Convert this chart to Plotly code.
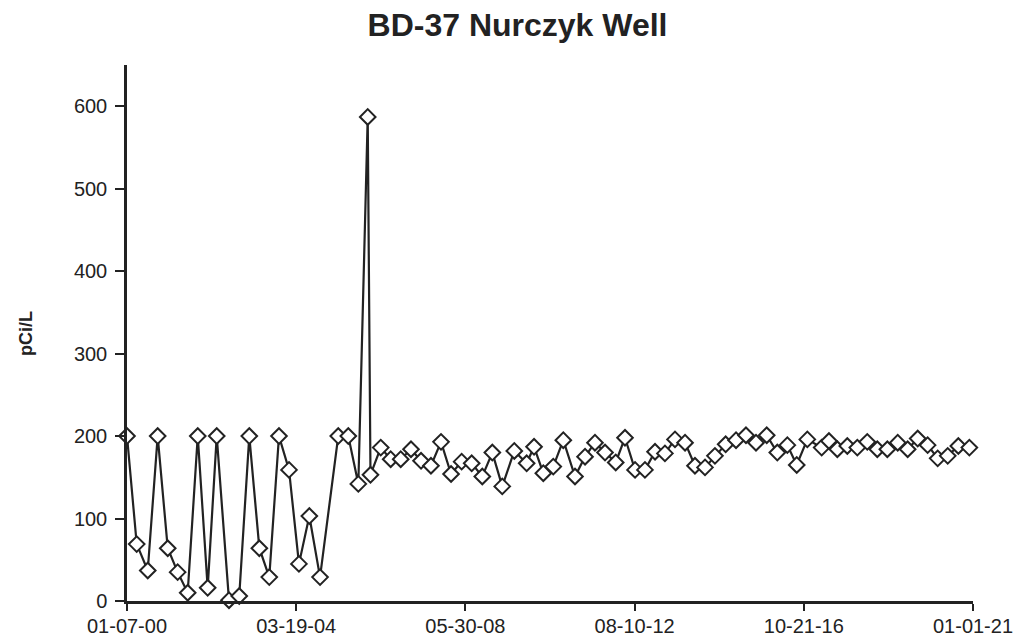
import plotly.graph_objects as go

sample_dates = [
    "2000-01-07", "2000-04-04", "2000-07-13", "2000-10-11", "2001-01-10", "2001-04-10",
    "2001-07-10", "2001-10-09", "2002-01-07", "2002-03-30", "2002-07-19", "2002-10-20",
    "2003-01-19", "2003-04-20", "2003-07-19", "2003-10-15", "2004-01-14", "2004-04-13",
    "2004-07-16", "2004-10-21", "2005-04-04", "2005-07-04", "2005-10-03", "2005-12-27",
    "2006-01-21", "2006-04-24", "2006-07-23", "2006-10-22", "2007-01-23", "2007-04-24",
    "2007-07-23", "2007-10-22", "2008-01-21", "2008-04-26", "2008-07-26", "2008-10-30",
    "2009-01-29", "2009-04-29", "2009-08-16", "2009-12-06", "2010-02-11", "2010-05-06",
    "2010-08-04", "2010-11-03", "2011-02-17", "2011-05-19", "2011-08-17", "2011-11-16",
    "2012-02-21", "2012-05-15", "2012-08-14", "2012-11-12", "2013-02-11", "2013-05-12",
    "2013-08-11", "2013-11-10", "2014-02-08", "2014-05-10", "2014-08-08", "2014-11-13",
    "2015-02-15", "2015-05-16", "2015-08-15", "2015-11-20", "2016-02-24", "2016-05-25",
    "2016-08-18", "2016-11-22", "2017-04-01", "2017-06-06", "2017-08-21", "2017-11-19",
    "2018-02-18", "2018-05-19", "2018-08-18", "2018-11-17", "2019-02-19", "2019-05-20",
    "2019-08-19", "2019-11-17", "2020-02-16", "2020-05-17", "2020-08-21", "2020-11-29",
]

pci_per_l = [
    200, 69, 37, 200, 64, 35, 10, 200, 16, 200, 1, 6,
    200, 64, 29, 200, 159, 45, 103, 29, 200, 200, 142, 587,
    153, 186, 172, 172, 184, 170, 164, 193, 154, 169, 167, 151,
    180, 139, 182, 167, 187, 155, 163, 195, 151, 175, 192, 180,
    168, 198, 159, 159, 181, 179, 196, 192, 164, 162, 176, 190,
    195, 201, 192, 201, 180, 189, 165, 196, 186, 194, 184, 188,
    186, 193, 184, 184, 192, 184, 197, 189, 173, 176, 188, 186,
]

tick_dates = ["2000-01-07", "2004-03-19", "2008-05-30", "2012-08-10", "2016-10-21", "2021-01-01"]
tick_labels = ["01-07-00", "03-19-04", "05-30-08", "08-10-12", "10-21-16", "01-01-21"]
y_ticks = [0, 100, 200, 300, 400, 500, 600]
x_range = ["2000-01-07", "2021-01-01"]
y_range = [0, 650]

ink = "#222222"
font_family = "Liberation Sans, Arial, sans-serif"

# The page body has an 8px margin, so the figure is laid out 8px in from the
# top-left corner of the window; its size is chosen so it ends at the window edge.
fig_w, fig_h = 1016, 631
plot_l, plot_t, plot_r, plot_b = 119, 57, 51, 38

fig = go.Figure()
fig.add_trace(go.Scatter(
    x=sample_dates, y=pci_per_l, mode="lines+markers",
    line=dict(color=ink, width=2.2),
    marker=dict(symbol="diamond", size=12, color="white",
                line=dict(color=ink, width=2)),
    cliponaxis=False, showlegend=False,
))

fig.update_layout(
    width=fig_w, height=fig_h,
    paper_bgcolor="white", plot_bgcolor="white",
    margin=dict(l=plot_l, r=plot_r, t=plot_t, b=plot_b, autoexpand=False),
    title=dict(text="<b>BD-37 Nurczyk Well</b>", x=509.5 / fig_w, xref="container",
               xanchor="center", y=1 - 17 / fig_h, yref="container", yanchor="middle",
               font=dict(family=font_family, size=32, color=ink)),
    font=dict(family=font_family, size=20, color=ink),
    xaxis=dict(
        range=x_range, type="date",
        tickvals=tick_dates, ticktext=tick_labels,
        showgrid=False, zeroline=False, automargin=False,
        showline=True, linecolor=ink, linewidth=2.5,
        ticks="outside", ticklen=7, tickwidth=2, tickcolor=ink,
        tickfont=dict(size=20, color=ink),
        ticklabelstandoff=-2,
    ),
    yaxis=dict(
        range=y_range, tickvals=y_ticks,
        showgrid=False, zeroline=False, automargin=False,
        showline=True, linecolor=ink, linewidth=2.5,
        ticks="outside", ticklen=9, tickwidth=2, tickcolor=ink,
        tickfont=dict(size=20, color=ink),
        ticklabelstandoff=4,
    ),
    # inner halves of the crossing tick marks
    xaxis2=dict(
        overlaying="x", matches="x", range=x_range, type="date",
        tickvals=tick_dates, showticklabels=False,
        showgrid=False, zeroline=False, showline=False, automargin=False,
        ticks="inside", ticklen=6, tickwidth=2, tickcolor=ink,
    ),
    yaxis2=dict(
        overlaying="y", matches="y", range=y_range,
        tickvals=y_ticks, showticklabels=False,
        showgrid=False, zeroline=False, showline=False, automargin=False,
        ticks="inside", ticklen=5, tickwidth=2, tickcolor=ink,
    ),
)

plot_w = fig_w - plot_l - plot_r
plot_h = fig_h - plot_t - plot_b
fig.add_annotation(
    text="<b>pCi/L</b>", textangle=-90, showarrow=False,
    xref="paper", yref="paper",
    x=(18 - plot_l) / plot_w, y=(fig_h - plot_b - 326) / plot_h,
    xanchor="center", yanchor="middle",
    font=dict(family=font_family, size=18, color=ink),
)

fig.write_html("out.html")
